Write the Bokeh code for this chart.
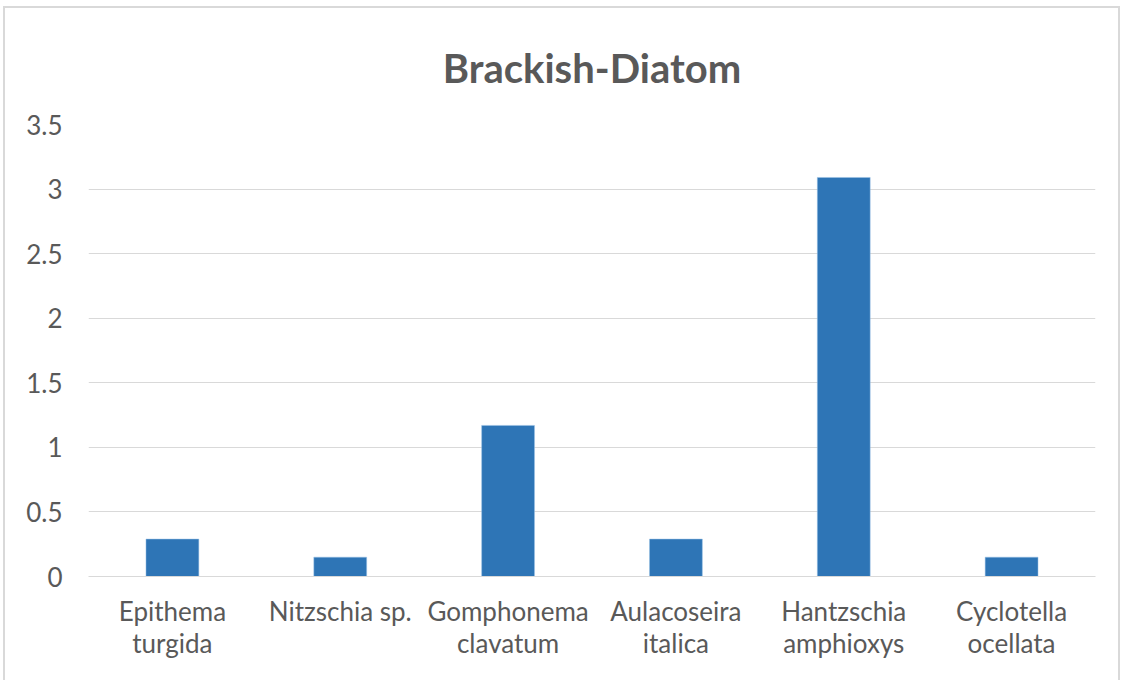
from bokeh.plotting import figure
from bokeh.models import NumeralTickFormatter, FixedTicker, Range1d
from bokeh.embed import file_html
from bokeh.resources import INLINE

categories = ["Epithema\nturgida", "Nitzschia sp.", "Gomphonema\nclavatum",
              "Aulacoseira\nitalica", "Hantzschia\namphioxys", "Cyclotella\nocellata"]
values = [0.29, 0.15, 1.17, 0.29, 3.09, 0.15]
y_ticks = [0, 0.5, 1, 1.5, 2, 2.5, 3, 3.5]
title_text = "Brackish-Diatom"

FONT = "Lato"
GREY = "#595959"

p = figure(x_range=categories, y_range=Range1d(0, 3.5), width=1117, height=674,
           output_backend="svg", toolbar_location=None, title=title_text,
           min_border_left=83, min_border_right=27, min_border_top=116, min_border_bottom=106)

p.vbar(x=categories, top=values, width=0.315, color="#2E75B6", line_color="#9DC3E6", line_width=0.5)

p.title.align = "center"
p.title.text_font = FONT
p.title.text_font_size = "40px"
p.title.text_font_style = "bold"
p.title.text_color = GREY
p.title.standoff = 65

p.outline_line_color = None
p.styles = {"border": "2px solid #d9d9d9", "border-bottom": "none",
            "margin-left": "3px", "margin-top": "6px"}

p.xgrid.grid_line_color = None
p.ygrid.grid_line_color = "#d9d9d9"
p.ygrid.grid_line_width = 1

p.yaxis.ticker = FixedTicker(ticks=y_ticks)
p.yaxis.formatter = NumeralTickFormatter(format="0.[0]")
p.yaxis.axis_line_color = None
p.yaxis.major_tick_line_color = None
p.yaxis.minor_tick_line_color = None
p.yaxis.major_label_standoff = 20
p.yaxis.major_label_text_font = FONT
p.yaxis.major_label_text_font_size = "26px"
p.yaxis.major_label_text_color = GREY

p.xaxis.axis_line_color = "#d9d9d9"
p.xaxis.axis_line_width = 1
p.xaxis.major_tick_line_color = None
p.xaxis.minor_tick_line_color = None
p.xaxis.major_label_standoff = 12
p.xaxis.major_label_text_font = FONT
p.xaxis.major_label_text_font_size = "26px"
p.xaxis.major_label_text_color = GREY
p.xaxis.major_label_text_line_height = 1.0

open("out.html", "w").write(file_html(p, INLINE))
